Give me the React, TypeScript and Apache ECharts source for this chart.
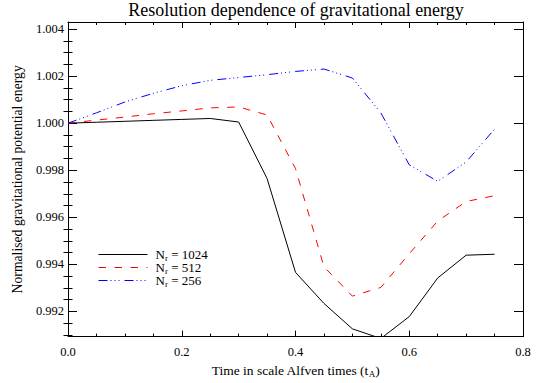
import React, { useEffect, useRef } from "react";
import * as echarts from "echarts";

const times = [0, 0.05, 0.1, 0.15, 0.2, 0.25, 0.3, 0.35, 0.4, 0.45, 0.5, 0.55, 0.6, 0.65, 0.7, 0.75];
const n1024 = [1.0, 1.00004, 1.00008, 1.00012, 1.00016, 1.0002, 1.00005, 0.99765, 0.99366, 0.99234, 0.99126, 0.99085, 0.99178, 0.99342, 0.99439, 0.99443];
const n512 = [1.0, 1.00013, 1.00026, 1.0004, 1.00052, 1.00065, 1.00069, 1.00035, 0.99807, 0.9939, 0.99265, 0.99302, 0.99445, 0.99584, 0.99667, 0.99692];
const n256 = [1.0, 1.00044, 1.0009, 1.00127, 1.00159, 1.00182, 1.00194, 1.00206, 1.0022, 1.0023, 1.00192, 1.00044, 0.99823, 0.99753, 0.99835, 0.99975];
const seriesNames = ["N_r = 1024", "N_r = 512", "N_r = 256"];
const legendLabels = ["N{sub|r} = 1024", "N{sub|r} = 512", "N{sub|r} = 256"];
const seriesColors = ["#000000", "#ff0000", "#0000ff"];
const seriesDash: (string | number[])[] = ["solid", [7.5, 8.5], [9, 3, 1, 3, 1, 3, 1, 5]];
const yMajorTicks = [0.992, 0.994, 0.996, 0.998, 1.0, 1.002, 1.004];
const yMinorTicks = [
  0.991, 0.9915, 0.9925, 0.993, 0.9935, 0.9945, 0.995, 0.9955, 0.9965, 0.997, 0.9975,
  0.9985, 0.999, 0.9995, 1.0005, 1.001, 1.0015, 1.0025, 1.003, 1.0035,
];
const xMin = 0;
const xMax = 0.8;
const yMin = 0.99093;
const yMax = 1.0043;

const FONT = "Liberation Serif";

export default function App() {
  const ref = useRef<HTMLDivElement>(null);
  useEffect(() => {
    document.body.style.margin = "0";
    const chart = echarts.init(ref.current!, null, { renderer: "svg" });
    const lineColor = "#000";
    const xAxisBase = (position: "bottom" | "top", showLabel: boolean) => ({
      type: "value",
      position,
      min: xMin,
      max: xMax,
      interval: 0.2,
      axisLine: { show: true, onZero: false, lineStyle: { color: lineColor, width: 1 } },
      axisTick: { show: true, inside: true, length: 6, lineStyle: { color: lineColor } },
      minorTick: { show: true, splitNumber: 4, length: 3, lineStyle: { color: lineColor } },
      splitLine: { show: false },
      axisLabel: {
        show: showLabel,
        margin: 9,
        color: "#000",
        fontFamily: FONT,
        fontSize: 12.5,
        formatter: (v: number) => v.toFixed(1),
      },
    });
    const yAxisMajor = (position: "left" | "right", showLabel: boolean, name?: string) => ({
      type: "value",
      position,
      offset: 0,
      min: yMin,
      max: yMax,
      name: name,
      nameLocation: "middle",
      nameGap: 32,
      nameTextStyle: { color: "#000", fontFamily: FONT, fontSize: 13.7 },
      axisLine: { show: true, onZero: false, lineStyle: { color: lineColor, width: 1 } },
      axisTick: { show: true, inside: true, length: 9, customValues: yMajorTicks, lineStyle: { color: lineColor } },
      splitLine: { show: false },
      axisLabel: {
        show: showLabel,
        customValues: yMajorTicks,
        margin: 4,
        color: "#000",
        fontFamily: FONT,
        fontSize: 12.5,
        formatter: (v: number) => v.toFixed(3),
      },
    });
    const yAxisMinor = (position: "left" | "right") => ({
      type: "value",
      position,
      offset: 0,
      min: yMin,
      max: yMax,
      axisLine: { show: false },
      axisTick: { show: true, inside: true, length: 4.5, customValues: yMinorTicks, lineStyle: { color: lineColor } },
      splitLine: { show: false },
      axisLabel: { show: false },
    });
    const mk = (vals: number[]) => times.map((t, i) => [t, vals[i]]);
    const allValues = [n1024, n512, n256];
    chart.setOption({
      animation: false,
      backgroundColor: "#fff",
      title: {
        text: "Resolution dependence of gravitational energy",
        left: 296,
        textAlign: "center",
        top: 0,
        padding: [1, 0, 0, 0],
        textStyle: { fontFamily: FONT, fontSize: 18, fontWeight: "normal", color: "#000" },
      },
      grid: { left: 68, right: 13, top: 22, bottom: 39 },
      legend: {
        orient: "vertical",
        left: 98,
        top: 248,
        padding: 0,
        itemWidth: 49,
        itemHeight: 2,
        itemGap: -1,
        itemStyle: { opacity: 0, borderWidth: 0 },
        data: seriesNames.map((n, i) => ({
          name: n,
          lineStyle: { color: seriesColors[i], width: 1, type: seriesDash[i] },
        })),
        formatter: (name: string) => legendLabels[seriesNames.indexOf(name)],
        textStyle: {
          fontFamily: FONT,
          fontSize: 13,
          color: "#000",
          padding: [0, 0, 0, 3],
          rich: {
            sub: { fontFamily: FONT, fontSize: 9, color: "#000", padding: [6, 0, 0, 0] },
          },
        },
      },
      xAxis: [
        {
          ...xAxisBase("bottom", true),
          name: "Time in scale Alfven times (t{sub|A})",
          nameLocation: "middle",
          nameGap: 24,
          nameTextStyle: {
            color: "#000",
            fontFamily: FONT,
            fontSize: 13.5,
            rich: { sub: { fontFamily: FONT, fontSize: 9, color: "#000", padding: [6, 0, 0, 0] } },
          },
        },
        xAxisBase("top", false),
      ],
      yAxis: [
        yAxisMajor("left", true, "Normalised gravitational potential energy"),
        yAxisMajor("right", false),
        yAxisMinor("left"),
        yAxisMinor("right"),
      ],
      series: seriesNames.map((n, i) => ({
        name: n,
        type: "line",
        data: mk(allValues[i]),
        showSymbol: false,
        symbol: "none",
        lineStyle: { color: seriesColors[i], width: 1, type: seriesDash[i] },
        itemStyle: { color: seriesColors[i] },
      })),
    });
    return () => chart.dispose();
  }, []);
  return <div ref={ref} style={{ width: 536, height: 383 }} />;
}
